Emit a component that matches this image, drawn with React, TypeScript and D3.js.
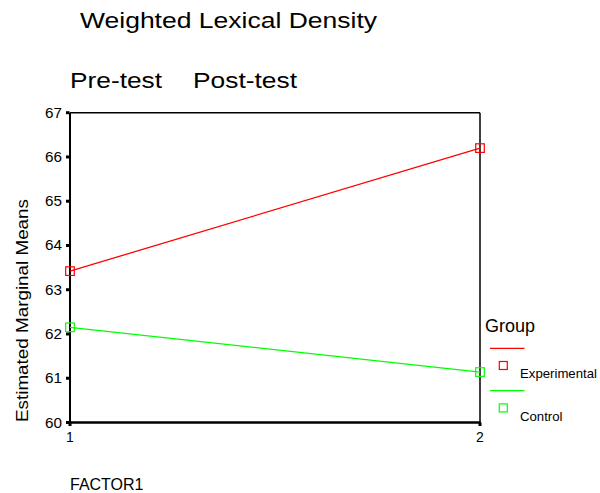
import React from "react";
import * as d3 from "d3";

const factorLevels = [1, 2];
const experimental = [63.42, 66.2];
const control = [62.15, 61.14];
const yTicks = [60, 61, 62, 63, 64, 65, 66, 67];
const seriesNames = ["Experimental", "Control"];
const seriesColors = ["#ff0000", "#00ff00"];

export default function App() {
  const W = 600, H = 493;
  const x = d3.scaleLinear().domain([1, 2]).range([70, 480]);
  const y = d3.scaleLinear().domain([60, 67]).range([422.5, 112.7]);
  const line = d3.line<number>().x((_, i) => x(factorLevels[i])).y((d) => y(d));
  const series = [experimental, control];
  const font = "Liberation Sans, Arial, Helvetica, sans-serif";
  return (
    <svg width={W} height={H} style={{ position: "absolute", left: 0, top: 0, background: "#fff" }} fontFamily={font}>
      <rect width={W} height={H} fill="#fff" />
      <text x={80} y={28} fontSize={22} textLength={297} lengthAdjust="spacingAndGlyphs">Weighted Lexical Density</text>
      <text x={70} y={88} fontSize={22} textLength={92} lengthAdjust="spacingAndGlyphs">Pre-test</text>
      <text x={193} y={88} fontSize={22} textLength={104} lengthAdjust="spacingAndGlyphs">Post-test</text>
      {/* frame */}
      <line x1={x(1)} x2={x(2)} y1={y(67)} y2={y(67)} stroke="#000" strokeWidth={1.5} />
      <line x1={x(2)} x2={x(2)} y1={y(67)} y2={y(60)} stroke="#000" strokeWidth={1.5} />
      <line x1={x(1)} x2={x(1)} y1={y(67)} y2={y(60)} stroke="#000" strokeWidth={2} />
      <line x1={x(1) - 1} x2={x(2) + 0.75} y1={y(60)} y2={y(60)} stroke="#000" strokeWidth={2.5} />
      {yTicks.map((t) => (
        <g key={t}>
          <rect x={x(1) - 4} y={y(t) - 1.5} width={3.5} height={3} fill="#000" />
          <text x={62} y={y(t) + 5} fontSize={14} textLength={17} lengthAdjust="spacingAndGlyphs" textAnchor="end">{t}</text>
        </g>
      ))}
      {factorLevels.map((f) => (
        <g key={f}>
          <rect x={x(f) - 1.5} y={y(60)} width={3} height={3.5} fill="#000" />
          <text x={x(f)} y={441.5} fontSize={14} textAnchor="middle">{f}</text>
        </g>
      ))}
      <text transform="translate(28,422) rotate(-90)" fontSize={17} textLength={223} lengthAdjust="spacingAndGlyphs">Estimated Marginal Means</text>
      <text x={70} y={490} fontSize={16}>FACTOR1</text>
      {series.map((s, si) => (
        <g key={si}>
          <path d={line(s) || ""} fill="none" stroke={seriesColors[si]} strokeWidth={1.3} />
          {s.map((v, i) => (
            <rect key={i} x={x(factorLevels[i]) - 4.3} y={y(v) - 4.3} width={8.6} height={8.6} fill="none" stroke={seriesColors[si]} strokeWidth={1.2} />
          ))}
        </g>
      ))}
      {/* legend */}
      <text x={485} y={331.7} fontSize={18}>Group</text>
      {seriesNames.map((n, i) => {
        const base = 348.3 + i * 42.4;
        return (
          <g key={n}>
            <line x1={490} x2={524.5} y1={base} y2={base} stroke={seriesColors[i]} strokeWidth={1.3} />
            <rect x={499.3} y={base + 13.2} width={8} height={8} fill="none" stroke={seriesColors[i]} strokeWidth={1.2} />
            <text x={520} y={base + 30} fontSize={13.2}>{n}</text>
          </g>
        );
      })}
    </svg>
  );
}
